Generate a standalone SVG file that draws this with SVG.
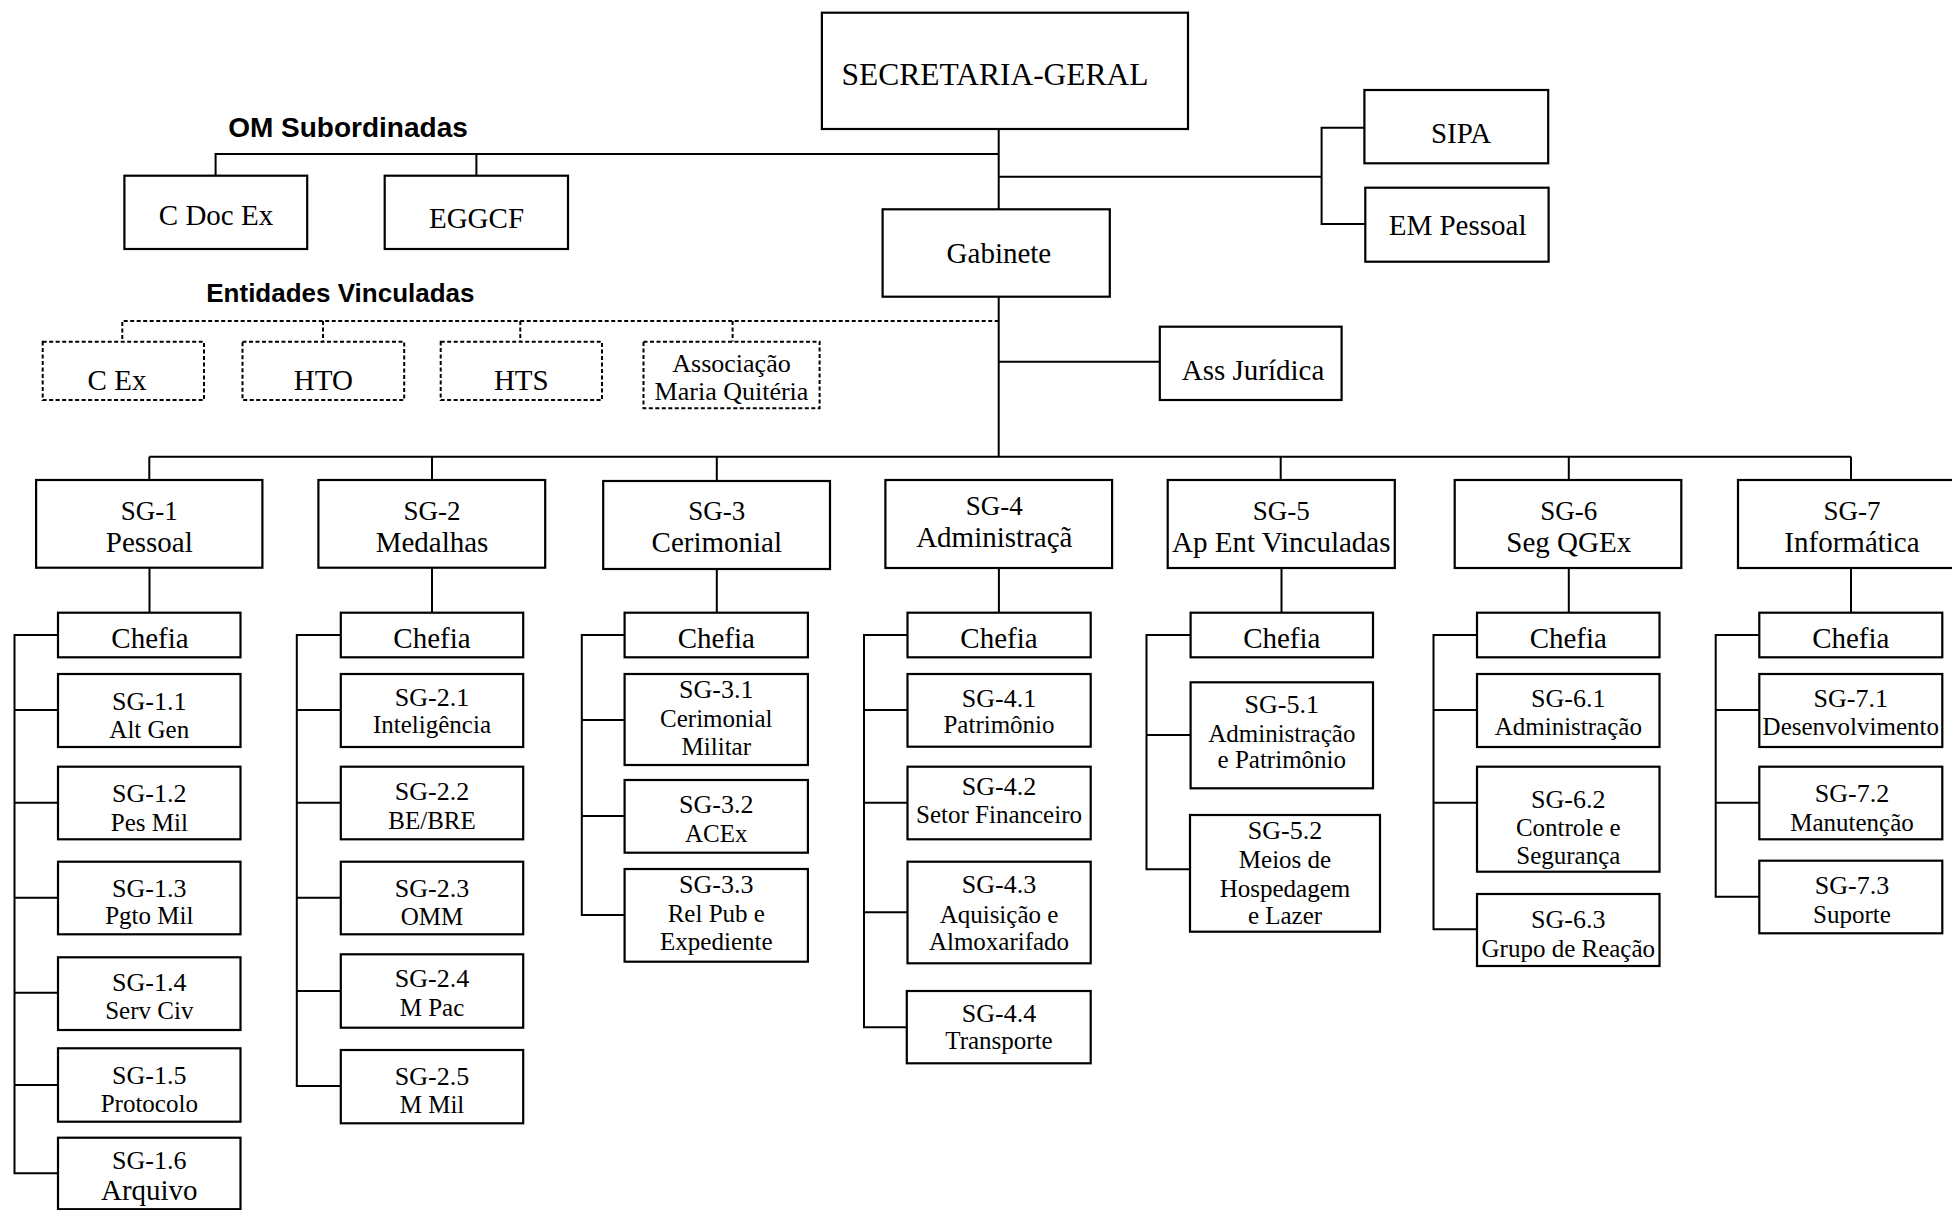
<svg xmlns="http://www.w3.org/2000/svg" width="1952" height="1210" viewBox="0 0 1952 1210">
<style>
.box{fill:#fff;stroke:#000;stroke-width:2.2}
.dbox{fill:#fff;stroke:#000;stroke-width:2;stroke-dasharray:4 2.5}
.ln{fill:none;stroke:#000;stroke-width:2}
.dln{fill:none;stroke:#000;stroke-width:2;stroke-dasharray:4 2.5}
text{font-family:"Liberation Serif","Times New Roman",serif;text-anchor:middle;fill:#000}
.s31{font-size:31.5px}.s29{font-size:29px}.s27{font-size:27px}.s26{font-size:26px}.s25{font-size:25px}
.lbl{font-family:"Liberation Sans",Arial,sans-serif;font-weight:bold;font-size:28px}
</style>
<rect width="1952" height="1210" fill="#fff"/>
<g id="connectors">
<path class="ln" d="M998.7 129V209.3M998.7 296.7V456.7"/>
<path class="ln" d="M998.7 154H215.6V175.7M476.4 154V175.7"/>
<path class="ln" d="M998.7 176.7H1321.6M1364.4 127.7H1321.6V224H1365.3"/>
<path class="ln" d="M998.7 361.7H1159.8"/>
<path class="dln" d="M998.7 321H122.3V341.7M323 321V341.7M520.3 321V341.7M732.6 321V341.7"/>
<path class="ln" d="M149.3 456.7H1851M149.3 456.7V480M432 456.7V480M716.8 456.7V481M1280.7 456.7V480M1568.8 456.7V480M1851 456.7V480"/>
<path class="ln" d="M149.5 567.7V612.7M432 567.7V612.7M716.8 569V612.7M998.9 568V612.7M1281.5 568V612.7M1568.8 568V612.7M1851 568V612.7"/>
<path class="ln" d="M58 635H14.5V1173.3H58M14.5 710H58M14.5 802.7H58M14.5 897.7H58M14.5 992.7H58M14.5 1085H58"/>
<path class="ln" d="M340.8 635H296.8V1086H340.8M296.8 710H340.8M296.8 802.7H340.8M296.8 897.7H340.8M296.8 991H340.8"/>
<path class="ln" d="M624.6 635H581.8V915H624.6M581.8 720H624.6M581.8 816H624.6"/>
<path class="ln" d="M907.5 635H864V1027.3H907.5M864 710H907.5M864 802.7H907.5M864 912.3H907.5"/>
<path class="ln" d="M1190.6 635H1146.5V869.3H1190M1146.5 735H1190.6"/>
<path class="ln" d="M1477 635H1433.5V929.3H1477M1433.5 710H1477M1433.5 802.7H1477"/>
<path class="ln" d="M1759.3 635H1715.7V896.7H1759.3M1715.7 710H1759.3M1715.7 802.7H1759.3"/>
</g>
<g id="secretaria"><rect class="box" x="821.9" y="12.7" width="366.1" height="116.3"/><text class="s31" x="995" y="85">SECRETARIA-GERAL</text></g>
<g id="om-label"><text class="lbl" x="348" y="136.7">OM Subordinadas</text></g>
<g id="cdocex"><rect class="box" x="124.4" y="175.7" width="182.8" height="73.3"/><text class="s29" x="216" y="225">C Doc Ex</text></g>
<g id="eggcf"><rect class="box" x="384.7" y="175.7" width="183.3" height="73.3"/><text class="s29" x="476.5" y="228.3">EGGCF</text></g>
<g id="sipa"><rect class="box" x="1364.4" y="90" width="183.8" height="73.3"/><text class="s29" x="1461" y="142.7">SIPA</text></g>
<g id="empessoal"><rect class="box" x="1365.3" y="187.7" width="183.3" height="74"/><text class="s29" x="1457.6" y="235">EM Pessoal</text></g>
<g id="gabinete"><rect class="box" x="882.6" y="209.3" width="227.2" height="87.4"/><text class="s29" x="998.9" y="263.3">Gabinete</text></g>
<g id="ent-label"><text class="lbl" x="340.4" y="301.7" style="font-size:26px">Entidades Vinculadas</text></g>
<g id="cex"><rect class="dbox" x="42.7" y="341.7" width="161.3" height="58.3"/><text class="s29" x="117" y="390">C Ex</text></g>
<g id="hto"><rect class="dbox" x="242.5" y="341.7" width="161.7" height="58.3"/><text class="s29" x="323.3" y="390">HTO</text></g>
<g id="hts"><rect class="dbox" x="440.7" y="341.7" width="161.3" height="58.3"/><text class="s29" x="521.3" y="390">HTS</text></g>
<g id="amq"><rect class="dbox" x="643.5" y="341.7" width="176.1" height="66.6"/><text class="s26" x="731.5" y="371.7">Associação</text><text class="s26" x="731.5" y="400">Maria Quitéria</text></g>
<g id="assjur"><rect class="box" x="1159.8" y="326.7" width="181.8" height="73.3"/><text class="s29" x="1253" y="380">Ass Jurídica</text></g>

<g id="sg1"><rect class="box" x="36.1" y="480" width="226.3" height="87.7"/><text class="s27" x="149.3" y="520">SG-1</text><text class="s29" x="149.3" y="551.7">Pessoal</text></g>
<g id="sg1-chefia"><rect class="box" x="58" y="612.7" width="182.5" height="44.6"/><text class="s29" x="150" y="648.3">Chefia</text></g>
<g id="sg1-1"><rect class="box" x="58" y="674" width="182.5" height="73"/><text class="s26" x="149.3" y="710">SG-1.1</text><text class="s25" x="149.3" y="738.3">Alt Gen</text></g>
<g id="sg1-2"><rect class="box" x="58" y="766.7" width="182.5" height="72.6"/><text class="s26" x="149.3" y="801.7">SG-1.2</text><text class="s25" x="149.3" y="830.7">Pes Mil</text></g>
<g id="sg1-3"><rect class="box" x="58" y="861.7" width="182.5" height="72.6"/><text class="s26" x="149.3" y="897.3">SG-1.3</text><text class="s25" x="149.3" y="924">Pgto Mil</text></g>
<g id="sg1-4"><rect class="box" x="58" y="957.3" width="182.5" height="72.7"/><text class="s26" x="149.3" y="990.7">SG-1.4</text><text class="s25" x="149.3" y="1019.3">Serv Civ</text></g>
<g id="sg1-5"><rect class="box" x="58" y="1048.3" width="182.5" height="73.4"/><text class="s26" x="149.3" y="1084">SG-1.5</text><text class="s25" x="149.3" y="1111.7">Protocolo</text></g>
<g id="sg1-6"><rect class="box" x="58" y="1137.7" width="182.5" height="71.5"/><text class="s26" x="149.3" y="1169.3">SG-1.6</text><text class="s29" x="149.3" y="1200">Arquivo</text></g>

<g id="sg2"><rect class="box" x="318.4" y="480" width="226.8" height="87.7"/><text class="s27" x="432" y="520">SG-2</text><text class="s29" x="432" y="551.7">Medalhas</text></g>
<g id="sg2-chefia"><rect class="box" x="340.8" y="612.7" width="182.4" height="44.6"/><text class="s29" x="432" y="648.3">Chefia</text></g>
<g id="sg2-1"><rect class="box" x="340.8" y="674" width="182.4" height="73"/><text class="s26" x="432" y="706">SG-2.1</text><text class="s25" x="432" y="733.3">Inteligência</text></g>
<g id="sg2-2"><rect class="box" x="340.8" y="766.7" width="182.4" height="72.6"/><text class="s26" x="432" y="800">SG-2.2</text><text class="s25" x="432" y="829.3">BE/BRE</text></g>
<g id="sg2-3"><rect class="box" x="340.8" y="861.7" width="182.4" height="72.6"/><text class="s26" x="432" y="897.3">SG-2.3</text><text class="s25" x="432" y="925">OMM</text></g>
<g id="sg2-4"><rect class="box" x="340.8" y="954.3" width="182.4" height="73.4"/><text class="s26" x="432" y="986.7">SG-2.4</text><text class="s25" x="432" y="1016">M Pac</text></g>
<g id="sg2-5"><rect class="box" x="340.8" y="1050" width="182.4" height="73.3"/><text class="s26" x="432" y="1085">SG-2.5</text><text class="s25" x="432" y="1113.3">M Mil</text></g>

<g id="sg3"><rect class="box" x="603.2" y="481" width="226.8" height="88"/><text class="s27" x="716.8" y="520">SG-3</text><text class="s29" x="716.8" y="551.7">Cerimonial</text></g>
<g id="sg3-chefia"><rect class="box" x="624.6" y="612.7" width="183.3" height="44.6"/><text class="s29" x="716.3" y="648.3">Chefia</text></g>
<g id="sg3-1"><rect class="box" x="624.6" y="674" width="183.3" height="91"/><text class="s26" x="716.3" y="698.3">SG-3.1</text><text class="s25" x="716.3" y="726.7">Cerimonial</text><text class="s25" x="716.3" y="755">Militar</text></g>
<g id="sg3-2"><rect class="box" x="624.6" y="780" width="183.3" height="72.7"/><text class="s26" x="716.3" y="813.3">SG-3.2</text><text class="s25" x="716.3" y="841.7">ACEx</text></g>
<g id="sg3-3"><rect class="box" x="624.6" y="869" width="183.3" height="92.7"/><text class="s26" x="716.3" y="893.3">SG-3.3</text><text class="s25" x="716.3" y="921.7">Rel Pub e</text><text class="s25" x="716.3" y="950">Expediente</text></g>

<g id="sg4"><rect class="box" x="885.4" y="480" width="226.7" height="88"/><text class="s27" x="994.3" y="515">SG-4</text><text class="s29" x="994.3" y="546.7">Administraçã</text></g>
<g id="sg4-chefia"><rect class="box" x="907.5" y="612.7" width="183.2" height="44.6"/><text class="s29" x="999" y="648.3">Chefia</text></g>
<g id="sg4-1"><rect class="box" x="907.5" y="674" width="183.2" height="72.7"/><text class="s26" x="999" y="706.7">SG-4.1</text><text class="s25" x="999" y="733.3">Patrimônio</text></g>
<g id="sg4-2"><rect class="box" x="907.5" y="766.7" width="183.2" height="72.6"/><text class="s26" x="999" y="795">SG-4.2</text><text class="s25" x="999" y="822.7">Setor Financeiro</text></g>
<g id="sg4-3"><rect class="box" x="907.5" y="861.7" width="183.2" height="101.6"/><text class="s26" x="999" y="893.3">SG-4.3</text><text class="s25" x="999" y="922.7">Aquisição e</text><text class="s25" x="999" y="950">Almoxarifado</text></g>
<g id="sg4-4"><rect class="box" x="906.8" y="991" width="183.9" height="72.3"/><text class="s26" x="999" y="1021.7">SG-4.4</text><text class="s25" x="999" y="1049.3">Transporte</text></g>

<g id="sg5"><rect class="box" x="1167.7" y="480" width="227.1" height="88"/><text class="s27" x="1281.3" y="520">SG-5</text><text class="s29" x="1281.3" y="551.7">Ap Ent Vinculadas</text></g>
<g id="sg5-chefia"><rect class="box" x="1190.6" y="612.7" width="182.4" height="44.6"/><text class="s29" x="1281.8" y="648.3">Chefia</text></g>
<g id="sg5-1"><rect class="box" x="1190.6" y="682.3" width="182.4" height="106"/><text class="s26" x="1281.8" y="713.3">SG-5.1</text><text class="s25" x="1281.8" y="741.7">Administração</text><text class="s25" x="1281.8" y="768.3">e Patrimônio</text></g>
<g id="sg5-2"><rect class="box" x="1190" y="815" width="190" height="116.7"/><text class="s26" x="1285" y="839.3">SG-5.2</text><text class="s25" x="1285" y="868.3">Meios de</text><text class="s25" x="1285" y="896.7">Hospedagem</text><text class="s25" x="1285" y="924">e Lazer</text></g>

<g id="sg6"><rect class="box" x="1454.7" y="480" width="226.6" height="88"/><text class="s27" x="1568.8" y="520">SG-6</text><text class="s29" x="1568.8" y="551.7">Seg QGEx</text></g>
<g id="sg6-chefia"><rect class="box" x="1477" y="612.7" width="182.5" height="44.6"/><text class="s29" x="1568.3" y="648.3">Chefia</text></g>
<g id="sg6-1"><rect class="box" x="1477" y="674" width="182.5" height="73"/><text class="s26" x="1568.3" y="707.3">SG-6.1</text><text class="s25" x="1568.3" y="735">Administração</text></g>
<g id="sg6-2"><rect class="box" x="1477" y="766.7" width="182.5" height="105"/><text class="s26" x="1568.3" y="808.3">SG-6.2</text><text class="s25" x="1568.3" y="836">Controle e</text><text class="s25" x="1568.3" y="864">Segurança</text></g>
<g id="sg6-3"><rect class="box" x="1477" y="894" width="182.5" height="72"/><text class="s26" x="1568.3" y="928.3">SG-6.3</text><text class="s25" x="1568.3" y="956.7">Grupo de Reação</text></g>

<g id="sg7"><rect class="box" x="1738" y="480" width="227" height="88"/><text class="s27" x="1852" y="520">SG-7</text><text class="s29" x="1852" y="551.7">Informática</text></g>
<g id="sg7-chefia"><rect class="box" x="1759.3" y="612.7" width="183" height="44.6"/><text class="s29" x="1850.8" y="648.3">Chefia</text></g>
<g id="sg7-1"><rect class="box" x="1759.3" y="674" width="183" height="73"/><text class="s26" x="1850.8" y="707.3">SG-7.1</text><text class="s25" x="1850.8" y="735">Desenvolvimento</text></g>
<g id="sg7-2"><rect class="box" x="1759.3" y="766.7" width="183" height="72.6"/><text class="s26" x="1852" y="801.7">SG-7.2</text><text class="s25" x="1852" y="830.7">Manutenção</text></g>
<g id="sg7-3"><rect class="box" x="1759.3" y="860.7" width="183" height="72.6"/><text class="s26" x="1852" y="894">SG-7.3</text><text class="s25" x="1852" y="922.7">Suporte</text></g>
</svg>
